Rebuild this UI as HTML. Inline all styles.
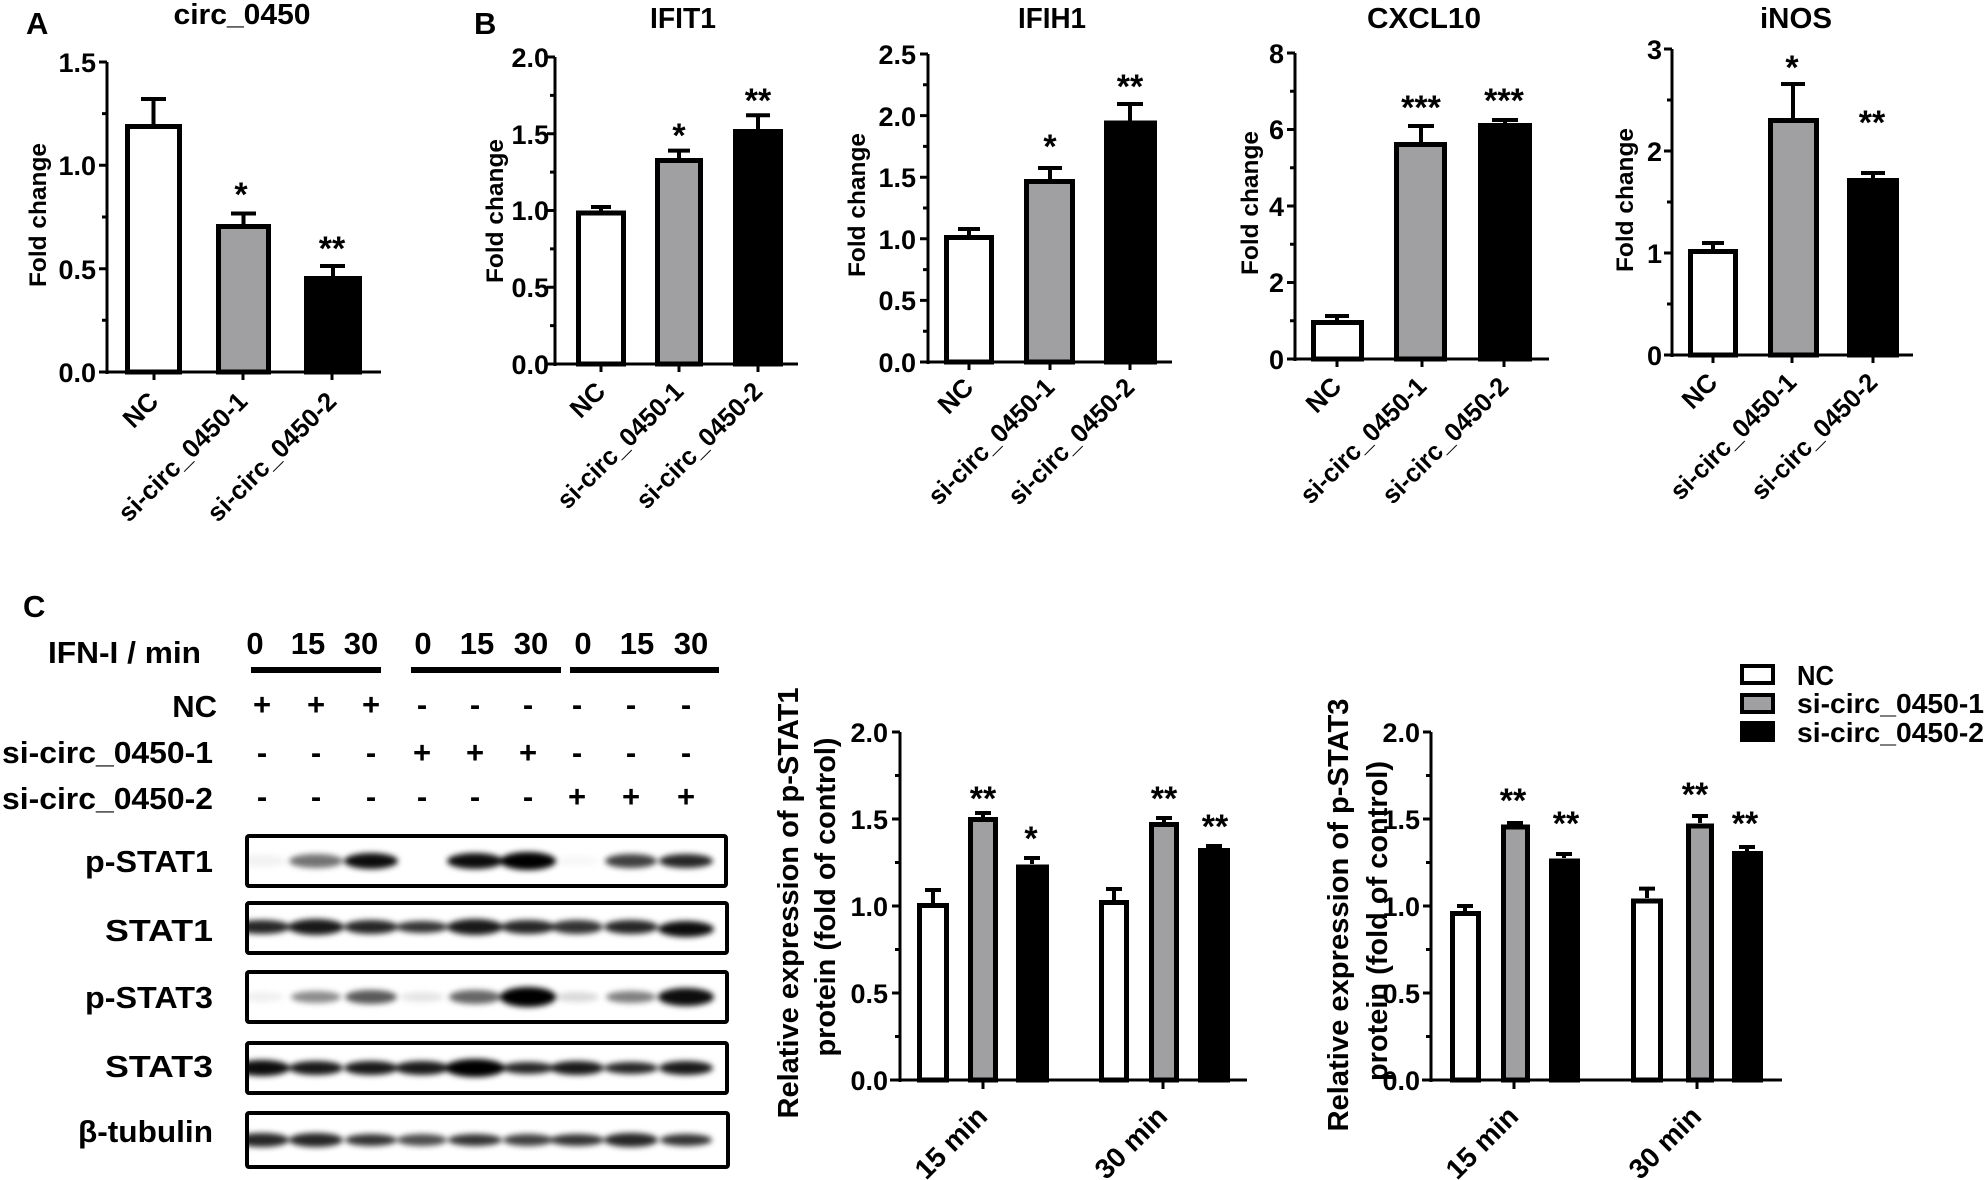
<!DOCTYPE html>
<html><head><meta charset="utf-8"><style>html,body{margin:0;padding:0;background:#fff}svg{display:block}text{font-family:"Liberation Sans",Arial,sans-serif;font-weight:bold;fill:#000}</style></head><body>
<svg width="1984" height="1180" viewBox="0 0 1984 1180" xmlns="http://www.w3.org/2000/svg">
<defs><filter id="bl" x="-50%" y="-100%" width="200%" height="300%"><feGaussianBlur stdDeviation="3"/></filter>
<clipPath id="cb"><rect x="249" y="838" width="475" height="46"/><rect x="249" y="905" width="476" height="46"/><rect x="249" y="974" width="476" height="46"/><rect x="249" y="1045" width="476" height="46"/><rect x="249" y="1115" width="477" height="50"/></clipPath></defs>
<g stroke="#000" stroke-width="3" fill="none">
<path d="M107 62V374M100 372H381M99 62H107M99 165.3H107M99 268.7H107M99 372H107M102 113.6H107M102 217H107M102 320.3H107M154 372V380M243 372V380M332 372V380"/>
<path d="M555 57V366M548 364H798M547 57H555M547 133.8H555M547 210.5H555M547 287.3H555M547 364H555M550 95.4H555M550 172.1H555M550 248.9H555M550 325.6H555M601 364V372M679 364V372M758 364V372"/>
<path d="M928 54V364M921 362H1172M920 54H928M920 115.6H928M920 177.2H928M920 238.8H928M920 300.4H928M920 362H928M923 84.8H928M923 146.4H928M923 208H928M923 269.6H928M923 331.2H928M969 362V370M1050 362V370M1130 362V370"/>
<path d="M1295 53V361M1288 359H1549M1287 53H1295M1287 129.5H1295M1287 206H1295M1287 282.5H1295M1287 359H1295M1290 91.3H1295M1290 167.8H1295M1290 244.3H1295M1290 320.8H1295M1337 359V367M1422 359V367M1504 359V367"/>
<path d="M1672 49V357M1665 355H1913M1664 49H1672M1664 151H1672M1664 253H1672M1664 355H1672M1667 100H1672M1667 202H1672M1667 304H1672M1713 355V363M1792 355V363M1873 355V363"/>
<path d="M900 732V1082M890 1080H1247M892 732H900M892 819H900M892 906H900M892 993H900M892 1080H900M895 775.5H900M895 862.5H900M895 949.5H900M895 1036.5H900M983 1080V1089M1163 1080V1089"/>
<path d="M1431 732V1082M1422 1080H1782M1423 732H1431M1423 819H1431M1423 906H1431M1423 993H1431M1423 1080H1431M1426 775.5H1431M1426 862.5H1431M1426 949.5H1431M1426 1036.5H1431M1514 1080V1089M1697 1080V1089"/>
</g>
<g stroke="#000" stroke-width="4" fill="none">
<path d="M153.5 124V99M141 99H166M243.5 224V213.5M231 213.5H256M333 276V266M320 266H345"/>
<path d="M601 210.5V207M591 207H611M679 158V150.6M668 150.6H690M758 129V115.3M746 115.3H770"/>
<path d="M969 235V229M958 229H980M1050 179V168M1038 168H1062M1130 120.5V104M1117 104H1143"/>
<path d="M1337 320V316M1325 316H1349M1421 142V126M1408 126H1434M1505 123V120M1492 120H1518"/>
<path d="M1713 249V243M1702 243H1724M1793 118V84M1781 84H1805M1873 178V173M1861 173H1885"/>
<path d="M933 903V890M925 890H941M983 817V813M975 813H991M1032 864V858M1024 858H1040M1114 900V889M1106 889H1122M1164 822V818M1156 818H1172M1214 848V846M1206 846H1222"/>
<path d="M1465 911V906M1457 906H1473M1515 824V823M1507 823H1523M1564 858V854M1556 854H1572M1647 898V888.6M1639 888.6H1655M1700 823V816M1692 816H1708M1747 851V847M1739 847H1755"/>
</g>
<g stroke="#000" stroke-width="5">
<rect x="127.5" y="126.5" width="52" height="245.5" fill="#fff"/><rect x="218.5" y="226.5" width="50" height="145.5" fill="#a0a0a3"/><rect x="306.5" y="278.5" width="53" height="93.5" fill="#000"/>
<rect x="578.5" y="213" width="45" height="151" fill="#fff"/><rect x="657.5" y="160.5" width="43" height="203.5" fill="#a0a0a3"/><rect x="735.5" y="131.5" width="45" height="232.5" fill="#000"/>
<rect x="946.5" y="237.5" width="45" height="124.5" fill="#fff"/><rect x="1026.5" y="181.5" width="46" height="180.5" fill="#a0a0a3"/><rect x="1106.5" y="123" width="48" height="239" fill="#000"/>
<rect x="1313.5" y="322.5" width="48" height="36.5" fill="#fff"/><rect x="1396.5" y="144.5" width="48" height="214.5" fill="#a0a0a3"/><rect x="1480.5" y="125.5" width="49" height="233.5" fill="#000"/>
<rect x="1690.5" y="251.5" width="45" height="103.5" fill="#fff"/><rect x="1770.5" y="120.5" width="46" height="234.5" fill="#a0a0a3"/><rect x="1849.5" y="180.5" width="47" height="174.5" fill="#000"/>
<rect x="919.5" y="905.5" width="27" height="174.5" fill="#fff"/><rect x="970.5" y="819.5" width="25" height="260.5" fill="#a0a0a3"/><rect x="1018.5" y="867" width="28" height="213" fill="#000"/>
<rect x="1101.5" y="902.5" width="25" height="177.5" fill="#fff"/><rect x="1151.5" y="824.5" width="25" height="255.5" fill="#a0a0a3"/><rect x="1200.5" y="850.5" width="27" height="229.5" fill="#000"/>
<rect x="1452.5" y="913.5" width="26" height="166.5" fill="#fff"/><rect x="1503.5" y="827" width="24" height="253" fill="#a0a0a3"/><rect x="1551.5" y="861" width="26" height="219" fill="#000"/>
<rect x="1633.5" y="901" width="27" height="179" fill="#fff"/><rect x="1688.5" y="826" width="23" height="254" fill="#a0a0a3"/><rect x="1734.5" y="853.5" width="26" height="226.5" fill="#000"/>
<rect x="1742" y="666" width="31" height="17" fill="#fff" stroke-width="4"/><rect x="1742" y="695" width="31" height="17" fill="#a0a0a3" stroke-width="4"/><rect x="1742" y="723" width="31" height="17" fill="#000" stroke-width="4"/>
</g>
<g font-size="31"><text x="26" y="34">A</text><text x="474" y="34">B</text><text x="23" y="617">C</text></g>
<g font-size="29" text-anchor="middle">
<text x="242" y="24" textLength="137" lengthAdjust="spacingAndGlyphs">circ_0450</text>
<text x="683" y="28" textLength="66" lengthAdjust="spacingAndGlyphs">IFIT1</text>
<text x="1052" y="28" textLength="68" lengthAdjust="spacingAndGlyphs">IFIH1</text>
<text x="1424" y="28" textLength="114" lengthAdjust="spacingAndGlyphs">CXCL10</text>
<text x="1796" y="28" textLength="72" lengthAdjust="spacingAndGlyphs">iNOS</text>
</g>
<g font-size="27" text-anchor="end">
<text x="96" y="72">1.5</text><text x="96" y="175">1.0</text><text x="96" y="279">0.5</text><text x="96" y="382">0.0</text>
<text x="549" y="67">2.0</text><text x="549" y="144">1.5</text><text x="549" y="220">1.0</text><text x="549" y="297">0.5</text><text x="549" y="374">0.0</text>
<text x="916" y="64">2.5</text><text x="916" y="126">2.0</text><text x="916" y="187">1.5</text><text x="916" y="249">1.0</text><text x="916" y="310">0.5</text><text x="916" y="372">0.0</text>
<text x="1284" y="63">8</text><text x="1284" y="139">6</text><text x="1284" y="216">4</text><text x="1284" y="292">2</text><text x="1284" y="369">0</text>
<text x="1662" y="59">3</text><text x="1662" y="161">2</text><text x="1662" y="263">1</text><text x="1662" y="365">0</text>
<text x="888" y="742">2.0</text><text x="888" y="829">1.5</text><text x="888" y="916">1.0</text><text x="888" y="1003">0.5</text><text x="888" y="1090">0.0</text>
<text x="1420" y="742">2.0</text><text x="1420" y="829">1.5</text><text x="1420" y="916">1.0</text><text x="1420" y="1003">0.5</text><text x="1420" y="1090">0.0</text>
</g>
<g font-size="24" text-anchor="middle">
<text transform="translate(46,215) rotate(-90)" textLength="144" lengthAdjust="spacingAndGlyphs">Fold change</text>
<text transform="translate(503,211) rotate(-90)" textLength="144" lengthAdjust="spacingAndGlyphs">Fold change</text>
<text transform="translate(865,205) rotate(-90)" textLength="144" lengthAdjust="spacingAndGlyphs">Fold change</text>
<text transform="translate(1258,203) rotate(-90)" textLength="144" lengthAdjust="spacingAndGlyphs">Fold change</text>
<text transform="translate(1633,200) rotate(-90)" textLength="144" lengthAdjust="spacingAndGlyphs">Fold change</text>
</g>
<g font-size="29" text-anchor="middle">
<text transform="translate(798,903) rotate(-90)" textLength="431" lengthAdjust="spacingAndGlyphs">Relative expression of p-STAT1</text>
<text transform="translate(835,897) rotate(-90)" textLength="319" lengthAdjust="spacingAndGlyphs">protein (fold of control)</text>
<text transform="translate(1348,915) rotate(-90)" textLength="433" lengthAdjust="spacingAndGlyphs">Relative expression of p-STAT3</text>
<text transform="translate(1387,921) rotate(-90)" textLength="320" lengthAdjust="spacingAndGlyphs">protein (fold of control)</text>
</g>
<g font-size="34" text-anchor="middle">
<text x="241" y="206">*</text><text x="332" y="260">**</text>
<text x="679" y="147">*</text><text x="758" y="112">**</text>
<text x="1050" y="158">*</text><text x="1130" y="98">**</text>
<text x="1421" y="119">***</text><text x="1504" y="112">***</text>
<text x="1792" y="79">*</text><text x="1872" y="134">**</text>
<text x="983" y="810">**</text><text x="1031" y="850">*</text><text x="1164" y="810">**</text><text x="1215" y="838">**</text>
<text x="1513" y="812">**</text><text x="1566" y="835">**</text><text x="1695" y="806">**</text><text x="1745" y="835">**</text>
</g>
<g font-size="26" text-anchor="end">
<text transform="translate(160,403) rotate(-45)">NC</text>
<text transform="translate(249,403) rotate(-45)" textLength="170" lengthAdjust="spacingAndGlyphs">si-circ_0450-1</text>
<text transform="translate(338,403) rotate(-45)" textLength="170" lengthAdjust="spacingAndGlyphs">si-circ_0450-2</text>
<text transform="translate(607,393) rotate(-45)">NC</text>
<text transform="translate(685,393) rotate(-45)" textLength="166" lengthAdjust="spacingAndGlyphs">si-circ_0450-1</text>
<text transform="translate(764,393) rotate(-45)" textLength="166" lengthAdjust="spacingAndGlyphs">si-circ_0450-2</text>
<text transform="translate(975,389) rotate(-45)">NC</text>
<text transform="translate(1056,389) rotate(-45)" textLength="166" lengthAdjust="spacingAndGlyphs">si-circ_0450-1</text>
<text transform="translate(1136,389) rotate(-45)" textLength="166" lengthAdjust="spacingAndGlyphs">si-circ_0450-2</text>
<text transform="translate(1343,388) rotate(-45)">NC</text>
<text transform="translate(1428,388) rotate(-45)" textLength="166" lengthAdjust="spacingAndGlyphs">si-circ_0450-1</text>
<text transform="translate(1510,388) rotate(-45)" textLength="166" lengthAdjust="spacingAndGlyphs">si-circ_0450-2</text>
<text transform="translate(1719,384) rotate(-45)">NC</text>
<text transform="translate(1798,384) rotate(-45)" textLength="166" lengthAdjust="spacingAndGlyphs">si-circ_0450-1</text>
<text transform="translate(1879,384) rotate(-45)" textLength="166" lengthAdjust="spacingAndGlyphs">si-circ_0450-2</text>
<text transform="translate(989,1118) rotate(-45)" font-size="28">15 min</text>
<text transform="translate(1169,1118) rotate(-45)" font-size="28">30 min</text>
<text transform="translate(1520,1118) rotate(-45)" font-size="28">15 min</text>
<text transform="translate(1703,1118) rotate(-45)" font-size="28">30 min</text>
</g>
<g font-size="28">
<text x="1797" y="685" textLength="37" lengthAdjust="spacingAndGlyphs">NC</text>
<text x="1797" y="713" textLength="187" lengthAdjust="spacingAndGlyphs">si-circ_0450-1</text>
<text x="1797" y="742" textLength="187" lengthAdjust="spacingAndGlyphs">si-circ_0450-2</text>
</g>
<g font-size="31">
<text x="48" y="663" textLength="153" lengthAdjust="spacingAndGlyphs">IFN-I / min</text>
<g text-anchor="middle"><text x="255" y="654">0</text><text x="308" y="654">15</text><text x="361" y="654">30</text><text x="423" y="654">0</text><text x="477" y="654">15</text><text x="531" y="654">30</text><text x="583" y="654">0</text><text x="637" y="654">15</text><text x="691" y="654">30</text></g>
<g text-anchor="end"><text x="217" y="717">NC</text><text x="213" y="763" textLength="211" lengthAdjust="spacingAndGlyphs">si-circ_0450-1</text><text x="213" y="809" textLength="211" lengthAdjust="spacingAndGlyphs">si-circ_0450-2</text>
<text x="213" y="872" textLength="128" lengthAdjust="spacingAndGlyphs">p-STAT1</text><text x="213" y="941" textLength="108" lengthAdjust="spacingAndGlyphs">STAT1</text><text x="213" y="1008" textLength="128" lengthAdjust="spacingAndGlyphs">p-STAT3</text><text x="213" y="1077" textLength="108" lengthAdjust="spacingAndGlyphs">STAT3</text><text x="213" y="1142" textLength="135" lengthAdjust="spacingAndGlyphs">β-tubulin</text></g>
<g text-anchor="middle">
<text x="262" y="715">+</text><text x="316" y="715">+</text><text x="371" y="715">+</text><text x="422" y="715">-</text><text x="475" y="715">-</text><text x="528" y="715">-</text><text x="577" y="715">-</text><text x="631" y="715">-</text><text x="686" y="715">-</text>
<text x="262" y="763">-</text><text x="316" y="763">-</text><text x="371" y="763">-</text><text x="422" y="763">+</text><text x="475" y="763">+</text><text x="528" y="763">+</text><text x="577" y="763">-</text><text x="631" y="763">-</text><text x="686" y="763">-</text>
<text x="262" y="807">-</text><text x="316" y="807">-</text><text x="371" y="807">-</text><text x="422" y="807">-</text><text x="475" y="807">-</text><text x="528" y="807">-</text><text x="577" y="807">+</text><text x="631" y="807">+</text><text x="686" y="807">+</text>
</g></g>
<g fill="#000"><rect x="251" y="667" width="130" height="6"/><rect x="411" y="667" width="150" height="6"/><rect x="570" y="667" width="149" height="6"/></g>
<g clip-path="url(#cb)"><g filter="url(#bl)" fill="#000">
<g transform="translate(0,861)"><ellipse cx="262" cy="0" rx="24" ry="6" opacity="0.05"/><ellipse cx="316" cy="0" rx="27" ry="7" opacity="0.55"/><ellipse cx="371" cy="0" rx="27" ry="8" opacity="0.95"/><ellipse cx="475" cy="0" rx="28" ry="8" opacity="0.95"/><ellipse cx="528" cy="0" rx="28" ry="9" opacity="1"/><ellipse cx="577" cy="0" rx="22" ry="5" opacity="0.03"/><ellipse cx="631" cy="0" rx="26" ry="7" opacity="0.75"/><ellipse cx="686" cy="0" rx="27" ry="7" opacity="0.85"/></g>
<g transform="translate(0,927)"><ellipse cx="262" cy="0" rx="28" ry="7" opacity="0.85"/><ellipse cx="316" cy="0" rx="28" ry="8" opacity="0.9"/><ellipse cx="371" cy="0" rx="27" ry="7" opacity="0.85"/><ellipse cx="422" cy="0" rx="26" ry="6" opacity="0.8"/><ellipse cx="475" cy="0" rx="28" ry="8" opacity="0.9"/><ellipse cx="528" cy="0" rx="27" ry="7" opacity="0.85"/><ellipse cx="577" cy="0" rx="26" ry="7" opacity="0.8"/><ellipse cx="631" cy="0" rx="27" ry="7" opacity="0.85"/><ellipse cx="686" cy="2" rx="28" ry="8" opacity="0.95"/></g>
<g transform="translate(0,997)"><ellipse cx="262" cy="0" rx="22" ry="5" opacity="0.06"/><ellipse cx="316" cy="0" rx="25" ry="6" opacity="0.45"/><ellipse cx="371" cy="0" rx="26" ry="7" opacity="0.65"/><ellipse cx="422" cy="0" rx="22" ry="5" opacity="0.1"/><ellipse cx="475" cy="0" rx="26" ry="7" opacity="0.6"/><ellipse cx="528" cy="0" rx="28" ry="10" opacity="1"/><ellipse cx="577" cy="0" rx="22" ry="5" opacity="0.15"/><ellipse cx="631" cy="0" rx="25" ry="6" opacity="0.5"/><ellipse cx="686" cy="0" rx="28" ry="9" opacity="0.95"/></g>
<g transform="translate(0,1068)"><ellipse cx="262" cy="0" rx="28" ry="8" opacity="0.95"/><ellipse cx="316" cy="0" rx="27" ry="7" opacity="0.9"/><ellipse cx="371" cy="0" rx="27" ry="7" opacity="0.9"/><ellipse cx="422" cy="0" rx="27" ry="7" opacity="0.9"/><ellipse cx="475" cy="0" rx="30" ry="9" opacity="1"/><ellipse cx="528" cy="0" rx="26" ry="6" opacity="0.85"/><ellipse cx="577" cy="0" rx="27" ry="7" opacity="0.9"/><ellipse cx="631" cy="0" rx="27" ry="6" opacity="0.85"/><ellipse cx="686" cy="0" rx="27" ry="7" opacity="0.9"/></g>
<g transform="translate(0,1140)"><ellipse cx="262" cy="0" rx="27" ry="7" opacity="0.85"/><ellipse cx="316" cy="0" rx="27" ry="7" opacity="0.85"/><ellipse cx="371" cy="0" rx="26" ry="6" opacity="0.8"/><ellipse cx="422" cy="0" rx="25" ry="6" opacity="0.7"/><ellipse cx="475" cy="0" rx="27" ry="6" opacity="0.8"/><ellipse cx="528" cy="0" rx="25" ry="6" opacity="0.75"/><ellipse cx="577" cy="0" rx="27" ry="6" opacity="0.8"/><ellipse cx="631" cy="0" rx="27" ry="7" opacity="0.85"/><ellipse cx="686" cy="0" rx="26" ry="6" opacity="0.8"/></g>
</g></g>
<g stroke="#000" stroke-width="4" fill="none">
<rect x="247" y="836" width="479" height="50" rx="2"/><rect x="247" y="903" width="480" height="50" rx="2"/><rect x="247" y="972" width="480" height="50" rx="2"/><rect x="247" y="1043" width="480" height="50" rx="2"/><rect x="247" y="1113" width="481" height="54" rx="2"/>
</g>
</svg>
</body></html>
